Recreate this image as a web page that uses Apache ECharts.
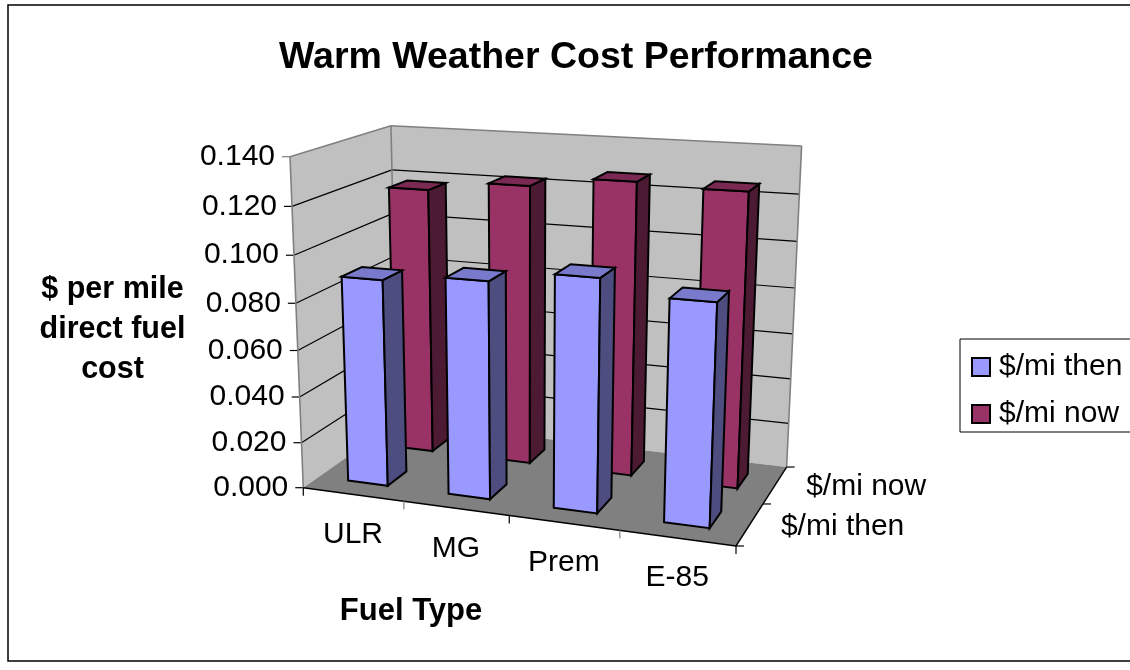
<!DOCTYPE html>
<html><head><meta charset="utf-8">
<style>html,body{margin:0;padding:0;background:#fff}#c{width:1130px;height:670px}</style>
<script src="https://cdn.jsdelivr.net/npm/echarts@6/dist/echarts.min.js"></script>
</head><body><div id="c"></div>
<script>
const categories = ['ULR','MG','Prem','E-85'];
const depthLabels = ['$/mi then','$/mi now'];
const thenValues = [0.0891,0.0923,0.0973,0.0915];
const nowValues = [0.1182,0.1227,0.1271,0.1258];
const valueTicks = [0,0.02,0.04,0.06,0.08,0.10,0.12,0.14];
const VMAX = 0.14;

// corners of the 3D box on screen (layout of the perspective projection)
const O=[303.3,487.7,1],X=[736,546,1],Y=[290,156.7,1],Z=[397.7,421.6,1],XZ=[786.7,467.7,1],YZ=[388.3,125.7,1],XYZ=[801.7,146.7,1];
// vertical vanishing point from two wall edges
const m1=(Y[0]-O[0])/(Y[1]-O[1]),m3=(XYZ[0]-XZ[0])/(XYZ[1]-XZ[1]);
const vy=(XZ[0]-m3*XZ[1]-O[0]+m1*O[1])/(m1-m3),vx=O[0]+m1*(vy-O[1]);
const s=(Y[1]-O[1])/(vy-Y[1]);
const ga=-s*(vy-YZ[1])/(Z[1]-YZ[1]),k=-s*(vy-XYZ[1])/(XZ[1]-XYZ[1]),al=k+1-ga;
const PX=[0,1,2].map(i=>al*X[i]-O[i]),PZ=[0,1,2].map(i=>ga*Z[i]-O[i]),PY=[s*vx,s*vy,s];
function proj(u,v,w){const h=[0,1,2].map(i=>PX[i]*u+PY[i]*v+PZ[i]*w+O[i]);return [h[0]/h[2],h[1]/h[2]];}

const chart=echarts.init(document.getElementById('c'));
function toUV(params,api,cat,val){const g=params.coordSys;const c=api.coord([cat,val]);return {u:(c[0]-g.x)/g.width,v:(g.y+g.height-c[1])/g.height,bw:api.size([1,0])[0]/g.width};}
const LINE='#000',GRAY='#808080';
function poly(pts,fill,stroke,lw){return {type:'polygon',shape:{points:pts},style:{fill:fill,stroke:stroke||null,lineWidth:lw||0,lineJoin:'miter'}};}
function seg(a,b,col,lw){return {type:'line',shape:{x1:a[0],y1:a[1],x2:b[0],y2:b[1]},style:{stroke:col,lineWidth:lw||1.2,fill:null}};}
function txt(x,y,t,al){return {type:'text',x:x,y:y,style:{text:t,fill:'#000',font:'30px "Liberation Sans",Arial,sans-serif',align:al,verticalAlign:'middle'}};}
function barRender(depth,fc,sc,tc){return function(params,api){
 const cat=api.value(0),val=api.value(1);const m=toUV(params,api,cat,val);
 const u0=m.u-.2*m.bw,u1=m.u+.2*m.bw,v=m.v;
 const w0=(depth+.3)/2,w1=(depth+.7)/2;
 const a=proj(u0,0,w0),b=proj(u1,0,w0),c=proj(u1,v,w0),d=proj(u0,v,w0),e=proj(u1,0,w1),f=proj(u1,v,w1),g=proj(u0,v,w1);
 return {type:'group',children:[poly([a,b,c,d],fc,LINE,2),poly([b,e,f,c],sc,LINE,2),poly([d,c,f,g],tc,LINE,2)]};
};}
function frameRender(params,api){
 const ch=[];
 const a=proj(0,0,0),b=proj(1,0,0),c=proj(1,0,1),d=proj(0,0,1),a1=proj(0,1,0),d1=proj(0,1,1),c1=proj(1,1,1);
 ch.push(poly([a,d,d1,a1],'#C0C0C0'));ch.push(poly([d,c,c1,d1],'#C0C0C0'));ch.push(poly([a,b,c,d],'#808080'));
 valueTicks.forEach(t=>{const m=toUV(params,api,0,t);const p=proj(0,m.v,0),q=proj(0,m.v,1),r=proj(1,m.v,1);
  if(t>0&&t<VMAX){ch.push(seg(p,q,LINE,1.2));ch.push(seg(q,r,LINE,1.2));}
  ch.push(seg([p[0]-8,p[1]],p,t===VMAX?GRAY:LINE,1.2));
  ch.push(txt(p[0]-15,p[1],t.toFixed(3),'right'));});
 ch.push(seg(a1,d1,GRAY,1.6));ch.push(seg(d1,c1,GRAY,1.6));ch.push(seg(c1,c,GRAY,1.6));ch.push(seg(d1,d,GRAY,1.6));ch.push(seg(a1,a,GRAY,1.6));
 ch.push(seg(a,b,LINE,1.4));ch.push(seg(b,c,LINE,1.4));
 for(let i=0;i<=categories.length;i++){const p=proj(i/categories.length,0,0);ch.push(seg(p,[p[0],p[1]+8],i%2?GRAY:LINE,1.2));}
 categories.forEach((n,i)=>{const m=toUV(params,api,i,0);const p=proj(m.u,0,0);ch.push(txt(p[0],p[1]+40,n,'center'));});
 for(let t=0;t<=depthLabels.length;t++){const p=proj(1,0,t/depthLabels.length);ch.push(seg(p,[p[0]+8,p[1]],LINE,1.2));}
 depthLabels.forEach((n,t)=>{const p=proj(1,0,(t+.5)/depthLabels.length);ch.push(txt(p[0]+31,p[1]+2,n,'left'));});
 return {type:'group',children:ch};
}
const mk=(arr)=>arr.map((v,i)=>[i,v]);
chart.setOption({
 animation:false,backgroundColor:'#fff',
 title:[
  {text:'Warm Weather Cost Performance',left:576,top:39,padding:0,textAlign:'center',textStyle:{fontFamily:'Liberation Sans',fontWeight:'bold',fontSize:37.5,color:'#000'}},
  {text:'$ per mile\ndirect fuel\ncost',left:112.5,top:270,padding:0,textAlign:'center',textStyle:{fontFamily:'Liberation Sans',fontWeight:'bold',fontSize:30.5,lineHeight:40,color:'#000'}},
  {text:'Fuel Type',left:411,top:596,padding:0,textAlign:'center',textStyle:{fontFamily:'Liberation Sans',fontWeight:'bold',fontSize:31,color:'#000'}}
 ],
 grid:{left:300,top:150,width:440,height:340,show:false},
 xAxis:{type:'category',data:categories,show:false},
 yAxis:{type:'value',min:0,max:VMAX,interval:0.02,show:false},
 legend:{data:depthLabels,orient:'vertical',left:960,top:339,padding:[13,30,3,11],itemGap:17,itemWidth:18,itemHeight:18,borderColor:'#000',borderWidth:1,icon:'rect',
  textStyle:{fontFamily:'Liberation Sans',fontSize:30,color:'#000',padding:[0,0,0,4]}},
 graphic:[{type:'rect',silent:true,z:-1,shape:{x:8,y:5,width:1140,height:656},style:{fill:'#fff',stroke:'#000',lineWidth:1.5}}],
 series:[
  {type:'custom',name:'frame',coordinateSystem:'cartesian2d',renderItem:frameRender,data:[[0,0]],silent:true,clip:false,z:2},
  {type:'custom',name:depthLabels[1],coordinateSystem:'cartesian2d',renderItem:barRender(1,'#993366','#4D1A33','#7A2952'),data:mk(nowValues),encode:{x:0,y:1},itemStyle:{color:'#993366',borderColor:'#000',borderWidth:1.5},clip:false,z:3},
  {type:'custom',name:depthLabels[0],coordinateSystem:'cartesian2d',renderItem:barRender(0,'#9999FF','#4D4D80','#7A7ACC'),data:mk(thenValues),encode:{x:0,y:1},itemStyle:{color:'#9999FF',borderColor:'#000',borderWidth:1.5},clip:false,z:4}
 ]
});
</script></body></html>
